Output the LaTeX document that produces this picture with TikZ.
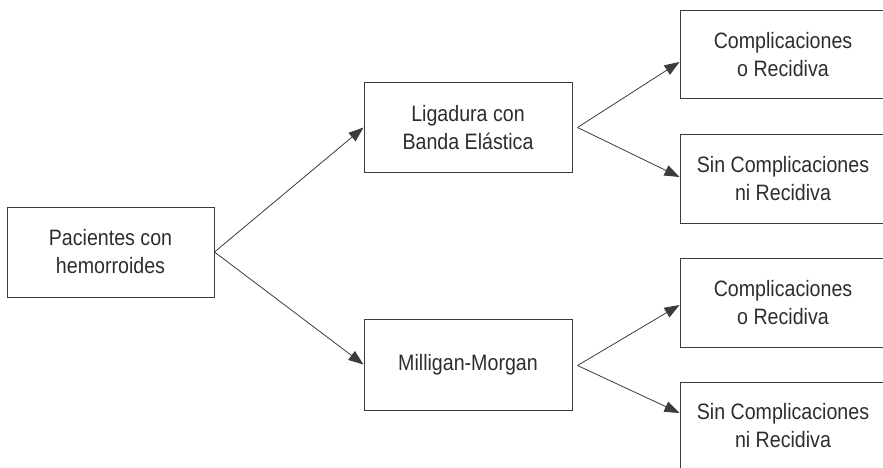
\documentclass[tikz,border=0pt]{standalone}
\usepackage{fontspec}
\setmainfont{Liberation Sans}[FakeStretch=0.88]
\usetikzlibrary{arrows.meta}
\definecolor{linegray}{RGB}{60,60,60}
\definecolor{textgray}{RGB}{45,45,45}

\begin{document}
\begin{tikzpicture}[x=1pt, y=-1pt,
    box/.style={draw=linegray, line width=1pt, text=textgray, align=center, inner sep=0pt,
        minimum width=208pt, minimum height=89pt, font=\fontsize{22.3}{28}\selectfont},
    link/.style={draw=linegray, line width=0.8pt, -{Triangle[length=15pt, width=11pt]}}]
    \useasboundingbox (0,0) rectangle (883,468);
    \clip (0,0) rectangle (883,468);

    % Create boxes
    \node[box, minimum width=207pt, minimum height=90pt] (pac) at (110.5,252) {Pacientes con\\hemorroides};
    \node[box] (lig) at (468,127.5) {Ligadura con\\Banda Elástica};
    \node[box, minimum height=91pt] (mil) at (468,364.5) {Milligan-Morgan};
    \node[box, minimum width=206pt, minimum height=88pt] (comp1) at (783,55) {Complicaciones\\o Recidiva};
    \node[box, minimum width=206pt, minimum height=88pt] (sin1) at (783,179) {Sin Complicaciones\\ni Recidiva};
    \node[box, minimum width=206pt] (comp2) at (783,302.5) {Complicaciones\\o Recidiva};
    \node[box, minimum width=206pt, minimum height=88pt] (sin2) at (783,426) {Sin Complicaciones\\ni Recidiva};

    % Branch points
    \coordinate (ligR) at ([xshift=5pt]lig.east);
    \coordinate (milR) at ([xshift=5pt, yshift=-1pt]mil.east);

    % Draw arrows
    \draw[link] (pac.east) -- (lig.west);
    \draw[link] (pac.east) -- (mil.west);
    \draw[link] (ligR) -- ([yshift=-7pt]comp1.west);
    \draw[link] (ligR) -- ([yshift=2pt]sin1.west);
    \draw[link] (milR) -- ([yshift=-2.5pt]comp2.west);
    \draw[link] (milR) -- ([yshift=13pt]sin2.west);
\end{tikzpicture}
\end{document}
